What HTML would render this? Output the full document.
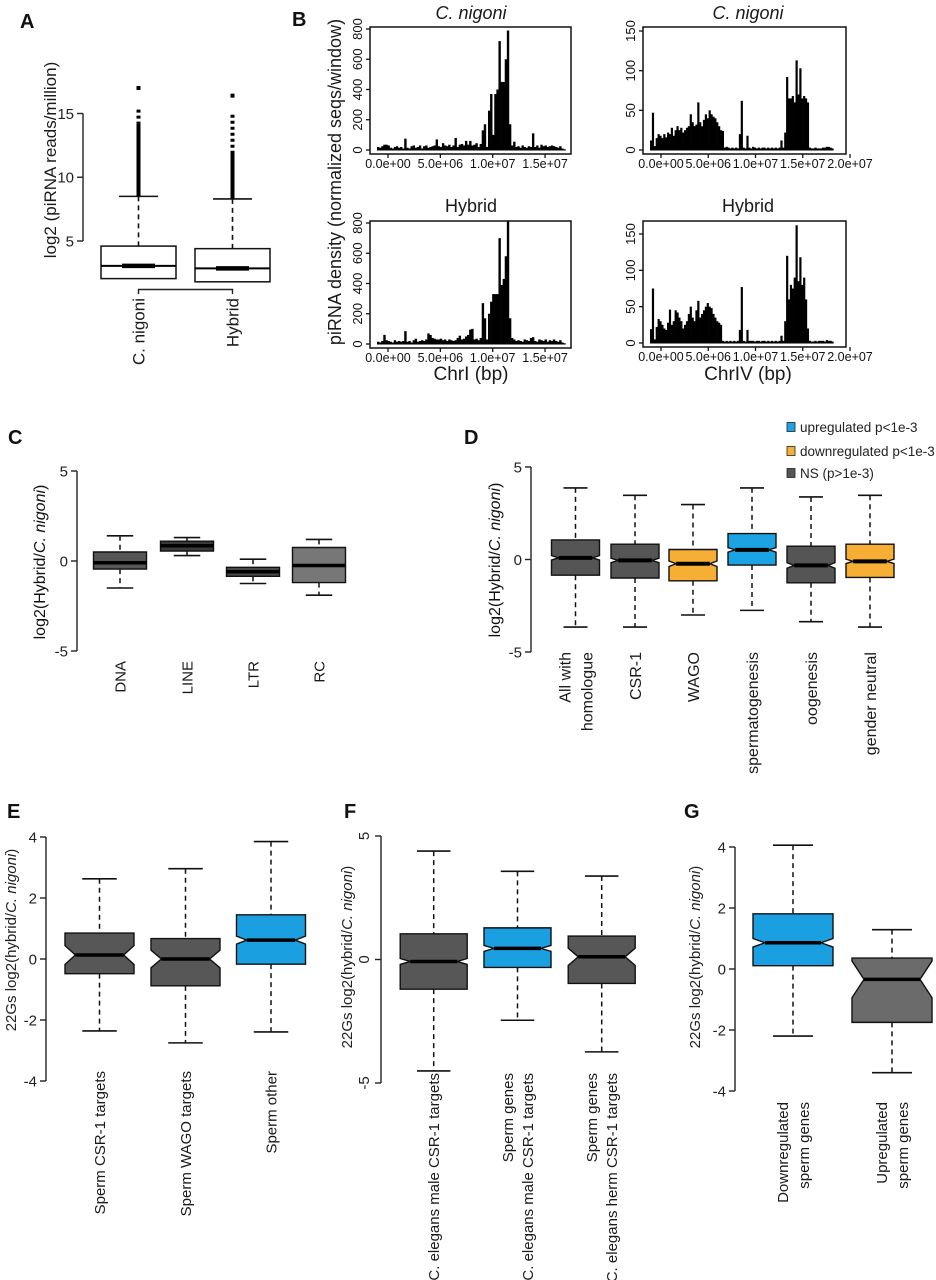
<!DOCTYPE html>
<html><head><meta charset="utf-8"><style>
html,body{margin:0;padding:0;background:#fff;}
svg{display:block;font-family:"Liberation Sans",Arial,sans-serif;}
</style></head><body>
<svg id="fig" width="936" height="1280" viewBox="0 0 936 1280" xmlns="http://www.w3.org/2000/svg"></svg>
<script>
// ---------- Panel A data ----------
const aCats=["C. nigoni","Hybrid"];
const aQ1=[2.05,1.8];
const aMed=[3.05,2.85];
const aQ3=[4.6,4.4];
const aHi=[8.5,8.3];
const aDenseTop=[14.2,11.9];
const aSparseTop=[15.3,14.9];
const aMaxOut=[17.0,16.4];
const aTicks=[5,10,15];
// ---------- Panel B data (bin width 2e5) ----------
const chrIBin=2e5;
const chrINigoni=[20,15,25,35,35,30,15,10,20,25,15,20,10,75,15,10,25,30,15,20,30,10,25,30,15,20,25,30,70,25,20,45,30,25,35,20,30,80,20,35,40,30,60,35,60,30,35,45,20,40,130,170,20,260,370,100,370,400,720,450,450,600,790,170,30,55,20,25,15,30,20,15,25,20,110,20,30,15,35,25,30,20,25,30,25,20,15,25,10,5];
const chrIHybrid=[15,10,20,60,25,20,15,10,25,15,20,15,20,85,15,20,10,25,35,15,20,25,20,30,70,60,40,35,30,30,35,25,30,20,30,25,20,25,40,55,30,35,50,60,95,100,30,35,25,40,270,170,30,200,280,330,330,330,700,390,430,580,840,170,40,30,20,25,20,15,30,25,20,40,45,20,15,30,25,20,30,15,25,20,30,20,15,25,10,5];
const chrIVBin=2e5;
const chrIVNigoni=[12,47,5,15,20,18,15,20,16,22,20,28,18,25,30,25,28,22,25,28,30,45,35,30,32,60,35,30,38,45,40,50,45,42,40,35,30,25,24,3,4,3,2,3,2,3,2,20,62,3,2,18,3,2,4,3,2,3,2,3,3,2,3,2,3,2,3,2,3,12,3,22,92,65,65,68,60,113,70,103,65,68,65,60,3,2,2,3,2,2,2,3,3,4,4,3,2,0,0,0];
const chrIVHybrid=[19,75,5,22,33,30,25,20,18,28,46,25,30,45,42,35,30,20,25,30,40,50,35,30,45,58,35,40,45,50,55,50,48,40,35,30,28,25,3,2,3,2,3,2,3,2,3,18,77,3,2,18,3,3,3,2,3,3,2,3,3,2,3,2,3,2,3,2,3,10,3,30,120,60,80,75,90,162,85,118,80,90,60,20,3,2,2,3,2,3,3,3,2,4,3,3,2,0,0,0];
const chrITicks=[0,5e6,1e7,1.5e7];
const chrIVTicks=[0,5e6,1e7,1.5e7,2e7];
const xTickLabelsI=["0.0e+00","5.0e+06","1.0e+07","1.5e+07"];
const xTickLabelsIV=["0.0e+00","5.0e+06","1.0e+07","1.5e+07","2.0e+07"];
const yTicksI=[0,200,400,600,800];
const yTicksIV=[0,50,100,150];
// ---------- Panel C data ----------
const cCats=["DNA","LINE","LTR","RC"];
const cLo=[-1.5,0.3,-1.25,-1.9];
const cQ1=[-0.45,0.55,-0.85,-1.2];
const cMed=[-0.1,0.85,-0.6,-0.25];
const cQ3=[0.5,1.1,-0.35,0.75];
const cHi=[1.4,1.3,0.1,1.2];
const cColors=["#565656","#3a3a3a","#4a4a4a","#777777"];
// ---------- Panel D data ----------
const dCats=[["All with","homologue"],["CSR-1"],["WAGO"],["spermatogenesis"],["oogenesis"],["gender neutral"]];
const dLo=[-3.65,-3.65,-3.0,-2.75,-3.36,-3.65];
const dQ1=[-0.85,-1.0,-1.15,-0.3,-1.26,-0.97];
const dMed=[0.09,-0.05,-0.23,0.52,-0.32,-0.1];
const dQ3=[1.06,0.83,0.54,1.4,0.72,0.83];
const dHi=[3.87,3.47,2.97,3.87,3.38,3.47];
const dNotch=[0.12,0.12,0.15,0.12,0.15,0.12];
const dGroup=["ns","ns","down","up","ns","down"];
// ---------- Panel E data ----------
const eCats=[["Sperm CSR-1 targets"],["Sperm WAGO targets"],["Sperm other"]];
const eLo=[-2.36,-2.75,-2.39];
const eQ1=[-0.48,-0.88,-0.17];
const eMed=[0.13,0,0.62];
const eQ3=[0.85,0.67,1.45];
const eHi=[2.63,2.96,3.85];
const eNotch=[0.31,0.29,0.13];
const eGroup=["ns","ns","up"];
// ---------- Panel F data ----------
const fCats=[["C. elegans male CSR-1 targets"],["Sperm genes","C. elegans male CSR-1 targets"],["Sperm genes","C. elegans herm CSR-1 targets"]];
const fLo=[-4.51,-2.46,-3.74];
const fQ1=[-1.2,-0.32,-0.97];
const fMed=[-0.08,0.45,0.11];
const fQ3=[1.04,1.28,0.95];
const fHi=[4.39,3.57,3.38];
const fNotch=[0.12,0.12,0.35];
const fGroup=["ns","up","ns"];
// ---------- Panel G data ----------
const gCats=[["Downregulated","sperm genes"],["Upregulated","sperm genes"]];
const gLo=[-2.2,-3.4];
const gQ1=[0.11,-1.75];
const gMed=[0.86,-0.34];
const gQ3=[1.81,0.36];
const gHi=[4.06,1.29];
const gNotch=[0.14,0.6];
const gGroup=["up","ns"];

const NS="http://www.w3.org/2000/svg";
const svg=document.getElementById('fig');
function el(tag,attrs,parent,text){const e=document.createElementNS(NS,tag);for(const k in attrs)e.setAttribute(k,attrs[k]);if(text!==undefined)e.textContent=text;(parent||svg).appendChild(e);return e;}
function grp(name){const g=el('g',{});return g;}
function txt(g,x,y,s,size,opts){opts=opts||{};const a={x:x,y:y,'font-size':size,fill:opts.fill||'#1a1a1a','text-anchor':opts.anchor||'middle'};if(opts.rot)a.transform='rotate(-90 '+x+' '+y+')';if(opts.italic)a['font-style']='italic';if(opts.bold)a['font-weight']='bold';if(opts.dy)a.dy=opts.dy;const t=el('text',a,g,s);return t;}
function letter(s,x,y){const g=grp('panel-letter-'+s.toLowerCase());txt(g,x,y,s,20,{bold:true,anchor:'start',fill:'#111',name:'panel-letter'});}

// ---------- generic boxplot ----------
function boxplot(name,g,cx,w,ys,lo,q1,med,q3,hi,notch,fill,medW){
  const b=el('g',{},g);
  const cw=w*0.5;
  const wl1=el('line',{x1:cx,x2:cx,y1:ys(hi),y2:ys(q3),stroke:'#111','stroke-width':1.5,'stroke-dasharray':'5,4'},b);
  
  const wl2=el('line',{x1:cx,x2:cx,y1:ys(q1),y2:ys(lo),stroke:'#111','stroke-width':1.5,'stroke-dasharray':'5,4'},b);
  
  const c1=el('line',{x1:cx-cw/2,x2:cx+cw/2,y1:ys(hi),y2:ys(hi),stroke:'#111','stroke-width':1.6},b);
  
  const c2=el('line',{x1:cx-cw/2,x2:cx+cw/2,y1:ys(lo),y2:ys(lo),stroke:'#111','stroke-width':1.6},b);
  
  const L=cx-w/2,R=cx+w/2;let inset=notch>0?w*0.15:0;
  let pts;
  if(notch>0){
    const nt=Math.min(med+notch,q3),nb=Math.max(med-notch,q1);
    pts=[[L,ys(q3)],[R,ys(q3)],[R,ys(nt)],[R-inset,ys(med)],[R,ys(nb)],[R,ys(q1)],[L,ys(q1)],[L,ys(nb)],[L+inset,ys(med)],[L,ys(nt)]];
  } else pts=[[L,ys(q3)],[R,ys(q3)],[R,ys(q1)],[L,ys(q1)]];
  const p=el('polygon',{points:pts.map(a=>a.join(',')).join(' '),fill:fill,stroke:'#111','stroke-width':1.4},b);
  
  const m=el('line',{x1:L+inset,x2:R-inset,y1:ys(med),y2:ys(med),stroke:'#000','stroke-width':medW},b);
  
}
function yaxis(g,x,ys,ticks,labels,size,rot){
  const ax=el('line',{x1:x,x2:x,y1:ys(ticks[0]),y2:ys(ticks[ticks.length-1]),stroke:'#222','stroke-width':1.4},g);
  
  ticks.forEach((t,i)=>{
    const tk=el('line',{x1:x-6,x2:x,y1:ys(t),y2:ys(t),stroke:'#222','stroke-width':1.4},g);
    
    if(rot) txt(g,x-12,ys(t),labels[i],size,{rot:true,fill:'#222',name:'y-tick-label'});
    else txt(g,x-9,ys(t)+size*0.36,labels[i],size,{anchor:'end',fill:'#222',name:'y-tick-label'});
  });
}
function catLabels(g,cx,yTop,lines,size,lh){
  const n=lines.length;
  lines.forEach((s,i)=>{const x=cx+(i-(n-1)/2)*lh+size*0.36;txt(g,x,yTop,s,size,{rot:true,anchor:'end',fill:'#1a1a1a',name:'category-label'});});
}
const COL={ns:'#575757',up:'#1aa0e0',down:'#f6ae35'};

// ================= Panel A =================
letter('A',20,28);
(function(){
  const g=grp('panel-a-boxplot');
  const ys=v=>241-(v-5)*12.75;
  const cx=[138.5,232.5], w=75;
  yaxis(g,83,ys,aTicks,aTicks.map(String),15,false);
  aCats.forEach((c,i)=>{
    const b=el('g',{},g);
    const wl=el('line',{x1:cx[i],x2:cx[i],y1:ys(aHi[i]),y2:ys(aQ3[i]),stroke:'#111','stroke-width':1.6,'stroke-dasharray':'5,4'},b);
    
    const cap=el('line',{x1:cx[i]-w*0.26,x2:cx[i]+w*0.26,y1:ys(aHi[i]),y2:ys(aHi[i]),stroke:'#111','stroke-width':1.6},b);
    
    const d=el('rect',{x:cx[i]-2,y:ys(aDenseTop[i]),width:4,height:ys(aHi[i])-ys(aDenseTop[i]),fill:'#000'},b);
    
    const s=el('line',{x1:cx[i],x2:cx[i],y1:ys(aSparseTop[i]),y2:ys(aDenseTop[i]),stroke:'#000','stroke-width':4,'stroke-dasharray':'3,3'},b);
    
    const o=el('rect',{x:cx[i]-2,y:ys(aMaxOut[i])-2,width:4,height:4,fill:'#000'},b);
    
    const r=el('rect',{x:cx[i]-w/2,y:ys(aQ3[i]),width:w,height:ys(aQ1[i])-ys(aQ3[i]),fill:'#fff',stroke:'#111','stroke-width':1.5},b);
    
    const m=el('line',{x1:cx[i]-w/2,x2:cx[i]+w/2,y1:ys(aMed[i]),y2:ys(aMed[i]),stroke:'#000','stroke-width':2},b);
    
    const m2=el('line',{x1:cx[i]-w*0.22,x2:cx[i]+w*0.22,y1:ys(aMed[i]),y2:ys(aMed[i]),stroke:'#000','stroke-width':4.5},b);
    
    catLabels(g,cx[i],298,[c],17,20);
  });
  const br=el('path',{d:'M'+cx[0]+' 294 V289.5 H'+cx[1]+' V294',fill:'none',stroke:'#222','stroke-width':1.4},g);
  
  txt(g,56,160,'log2 (piRNA reads/million)',17,{rot:true,name:'y-axis-title'});
})();

// ================= Panel B =================
letter('B',292,26);
function hist(name,box,x0,pxPer1e6,ybase,unit,ymaxv,vals,bin,xt,xtl,yt){
  const g=grp(name);
  const clipId='clip-'+name;
  const cp=el('clipPath',{id:clipId},g);el('rect',{x:box[0],y:box[1],width:box[2]-box[0],height:box[3]-box[1]},cp);
  const bars=el('g',{'clip-path':'url(#'+clipId+')'},g);
  
  const xs=v=>x0+v/1e6*pxPer1e6, ysf=v=>ybase-v*unit;
  const tickOff=11;
  vals.forEach((v,i)=>{
    if(v<=0)return;
    const r=el('rect',{x:xs(i*bin),y:ysf(v),width:xs((i+1)*bin)-xs(i*bin)+0.3,height:ybase-ysf(v)+0.5,fill:'#000'},bars);
    
  });
  const fr=el('rect',{x:box[0],y:box[1],width:box[2]-box[0],height:box[3]-box[1],fill:'none',stroke:'#111','stroke-width':1.5},g);
  
  xt.forEach((t,i)=>{
    const tx=xs(t)+tickOff;
    const tk=el('line',{x1:tx,x2:tx,y1:box[3],y2:box[3]+4,stroke:'#111','stroke-width':1.3},g);
    
    txt(g,tx,box[3]+14,xtl[i],12.5,{name:'x-tick-label',fill:'#111'});
  });
  yt.forEach(t=>{
    const tk=el('line',{x1:box[0]-4,x2:box[0],y1:ysf(t),y2:ysf(t),stroke:'#111','stroke-width':1.3},g);
    
    txt(g,box[0]-8,ysf(t),String(t),13,{rot:true,name:'y-tick-label',fill:'#111'});
  });
}
hist('chrI-c-nigoni',[370,27,571,154],377,10.47,150,121/800,800,chrINigoni,chrIBin,chrITicks,xTickLabelsI,yTicksI);
hist('chrIV-c-nigoni',[643,27,846,154],650,9.45,150,119/150,150,chrIVNigoni,chrIVBin,chrIVTicks,xTickLabelsIV,yTicksIV);
hist('chrI-hybrid',[370,221,571,348],377,10.47,344,121/800,800,chrIHybrid,chrIBin,chrITicks,xTickLabelsI,yTicksI);
hist('chrIV-hybrid',[643,221,846,347],650,9.45,343,109/150,150,chrIVHybrid,chrIVBin,chrIVTicks,xTickLabelsIV,yTicksIV);
(function(){
  const g=grp('panel-b-labels');
  txt(g,471,19,'C. nigoni',18,{italic:true,name:'title-chrI-c-nigoni'});
  txt(g,748,19,'C. nigoni',18,{italic:true,name:'title-chrIV-c-nigoni'});
  txt(g,471,212,'Hybrid',18,{name:'title-chrI-hybrid'});
  txt(g,748,212,'Hybrid',18,{name:'title-chrIV-hybrid'});
  txt(g,471,380,'ChrI (bp)',19,{name:'x-axis-title-chrI'});
  txt(g,748,380,'ChrIV (bp)',19,{name:'x-axis-title-chrIV'});
  txt(g,341,182,'piRNA density (normalized seqs/window)',18,{rot:true,name:'y-axis-title'});
})();

// ================= Panel C =================
letter('C',8,444);
(function(){
  const g=grp('panel-c-boxplot');
  const ys=v=>561-v*18;
  yaxis(g,77,ys,[-5,0,5],['-5','0','5'],15,false);
  const cx=[120,187,253,319];
  cCats.forEach((c,i)=>{
    boxplot('box-'+c.toLowerCase(),g,cx[i],53,ys,cLo[i],cQ1[i],cMed[i],cQ3[i],cHi[i],0,cColors[i],3.5);
    catLabels(g,cx[i],661,[c],15,18);
  });
  const t=el('text',{x:45,y:562,'font-size':16,fill:'#111','text-anchor':'middle',transform:'rotate(-90 45 562)'},g);
  
  el('tspan',{},t,'log2(Hybrid/');el('tspan',{'font-style':'italic'},t,'C. nigoni');el('tspan',{},t,')');
})();

// ================= Panel D =================
letter('D',464,444);
(function(){
  const g=grp('panel-d-boxplot');
  const ys=v=>559.5-v*18.5;
  yaxis(g,531,ys,[-5,0,5],['-5','0','5'],15,false);
  const cx=[575.5,635,693,752,811,870];
  const dcol={ns:'#555555',up:'#1ba3e3',down:'#f6ae35'};
  dCats.forEach((c,i)=>{
    boxplot('box-'+c.join('-').toLowerCase().replace(/ /g,'-'),g,cx[i],48,ys,dLo[i],dQ1[i],dMed[i],dQ3[i],dHi[i],dNotch[i],dcol[dGroup[i]],4);
    catLabels(g,cx[i],652,c,16,22);
  });
  const t=el('text',{x:500,y:560,'font-size':16,fill:'#111','text-anchor':'middle',transform:'rotate(-90 500 560)'},g);
  
  el('tspan',{},t,'log2(Hybrid/');el('tspan',{'font-style':'italic'},t,'C. nigoni');el('tspan',{},t,')');
  const leg=el('g',{},g);
  [['up','upregulated p<1e-3',427],['down','downregulated p<1e-3',451],['ns','NS (p>1e-3)',473]].forEach(a=>{
    const r=el('rect',{x:787,y:a[2]-4.5,width:8,height:9,fill:dcol[a[0]],stroke:'#222','stroke-width':0.8},leg);
    
    txt(leg,800,a[2]+5,a[1],13.5,{anchor:'start',name:'legend-entry',fill:'#222'});
  });
})();

// ================= Panel E =================
letter('E',7,818);
function ytitle22(g,x,y){
  const t=el('text',{x:x,y:y,'font-size':15,fill:'#222','text-anchor':'middle',transform:'rotate(-90 '+x+' '+y+')'},g);
  
  el('tspan',{},t,'22Gs log2(hybrid/');el('tspan',{'font-style':'italic'},t,'C. nigoni');el('tspan',{},t,')');
}
(function(){
  const g=grp('panel-e-boxplot');
  const ys=v=>959-v*30.5;
  yaxis(g,46,ys,[-4,-2,0,2,4],['-4','-2','0','2','4'],15,false);
  const cx=[99.5,185.5,271];
  eCats.forEach((c,i)=>{
    boxplot('box-e-'+i,g,cx[i],69,ys,eLo[i],eQ1[i],eMed[i],eQ3[i],eHi[i],eNotch[i],COL[eGroup[i]],3.5);
    catLabels(g,cx[i],1071,c,15,20);
  });
  ytitle22(g,16,940);
})();

// ================= Panel F =================
letter('F',344,818);
(function(){
  const g=grp('panel-f-boxplot');
  const ys=v=>959.5-v*24.7;
  yaxis(g,381,ys,[-5,0,5],['-5','0','5'],15,true);
  const cx=[433.7,517.5,601.7];
  fCats.forEach((c,i)=>{
    boxplot('box-f-'+i,g,cx[i],67,ys,fLo[i],fQ1[i],fMed[i],fQ3[i],fHi[i],fNotch[i],COL[fGroup[i]],3.5);
    catLabels(g,cx[i],1073,c,15,20);
  });
  ytitle22(g,352,957);
})();

// ================= Panel G =================
letter('G',684,818);
(function(){
  const g=grp('panel-g-boxplot');
  const ys=v=>969-v*30.5;
  yaxis(g,735,ys,[-4,-2,0,2,4],['-4','-2','0','2','4'],15,false);
  const cx=[793,892];
  gCats.forEach((c,i)=>{
    boxplot('box-g-'+i,g,cx[i],80,ys,gLo[i],gQ1[i],gMed[i],gQ3[i],gHi[i],gNotch[i],gGroup[i]==='up'?COL.up:'#6b6b6b',3.5);
    catLabels(g,cx[i],1102,c,15,21);
  });
  ytitle22(g,700,957);
})();
</script>
</body></html>
